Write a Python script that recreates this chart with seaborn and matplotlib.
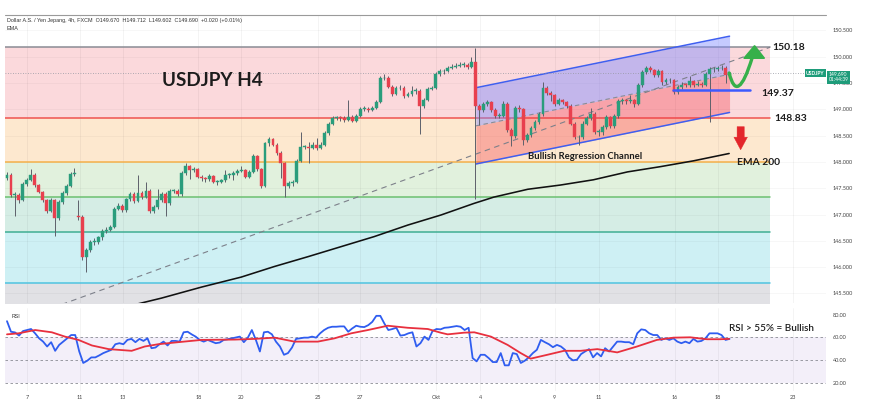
import numpy as np
import pandas as pd
import matplotlib
matplotlib.use("Agg")
import matplotlib.pyplot as plt
import matplotlib.transforms as mtransforms
from matplotlib.path import Path
from matplotlib.patches import PathPatch, Polygon
import seaborn as sns

# 4h candles, USDJPY
closes = [147.75, 147.37, 147.38, 147.27, 147.58, 147.66, 147.75, 147.56, 147.43, 147.28,
          147.07, 147.28, 146.93, 147.24, 147.41, 147.55, 147.77, 147.78, 146.96, 146.20,
          146.33, 146.48, 146.48, 146.57, 146.68, 146.71, 146.77, 147.11, 147.17, 147.08,
          147.29, 147.39, 147.26, 147.41, 147.34, 147.45, 147.07, 147.14, 147.27, 147.39,
          147.22, 147.45, 147.45, 147.39, 147.78, 147.93, 147.85, 147.86, 147.72, 147.69,
          147.67, 147.74, 147.62, 147.62, 147.65, 147.75, 147.75, 147.79, 147.83, 147.84,
          147.72, 147.81, 148.11, 147.86, 147.54, 148.35, 148.43, 148.33, 148.17, 147.97,
          147.54, 147.59, 147.62, 148.02, 148.29, 148.29, 148.27, 148.33, 148.27, 148.33,
          148.55, 148.72, 148.83, 148.85, 148.84, 148.80, 148.86, 148.78, 148.87, 149.01,
          149.01, 148.99, 149.03, 149.14, 149.59, 149.60, 149.43, 149.30, 149.40, 149.41,
          149.26, 149.29, 149.35, 149.35, 149.07, 149.18, 149.39, 149.41, 149.67, 149.72,
          149.72, 149.78, 149.81, 149.83, 149.85, 149.85, 149.81, 149.90, 149.07, 148.99,
          149.10, 149.13, 148.99, 148.88, 148.88, 149.11, 148.61, 148.49, 149.02, 149.00,
          148.42, 148.51, 148.64, 148.76, 148.91, 149.40, 149.31, 149.28, 149.11, 149.17,
          149.13, 149.07, 148.73, 148.47, 148.48, 148.73, 148.84, 148.91, 148.57, 148.57,
          148.67, 148.86, 148.68, 148.88, 149.15, 149.17, 149.15, 149.17, 149.11, 149.46,
          149.71, 149.79, 149.75, 149.65, 149.72, 149.51, 149.55, 149.55, 149.33, 149.42,
          149.47, 149.46, 149.53, 149.46, 149.49, 149.46, 149.67, 149.76, 149.76, 149.78,
          149.79, 149.66, 149.69]
highs = [147.80, 147.79, 147.42, 147.40, 147.62, 147.70, 147.86, 147.78, 147.58, 147.45,
         147.30, 147.31, 147.30, 147.27, 147.44, 147.58, 147.80, 147.88, 147.28, 147.00,
         146.36, 146.52, 146.55, 146.60, 146.72, 146.76, 146.80, 147.15, 147.22, 147.20,
         147.32, 147.43, 147.42, 147.75, 147.45, 147.62, 147.48, 147.18, 147.48, 147.42,
         147.43, 147.49, 147.49, 147.48, 147.82, 147.97, 147.95, 147.90, 147.88, 147.75,
         147.72, 147.77, 147.76, 147.66, 147.68, 147.84, 147.79, 147.82, 147.87, 147.92,
         147.86, 147.85, 148.15, 148.14, 147.89, 148.38, 148.48, 148.46, 148.36, 148.20,
         148.00, 147.63, 147.66, 148.06, 148.56, 148.33, 148.38, 148.38, 148.45, 148.37,
         148.59, 148.76, 148.87, 148.88, 148.88, 148.88, 149.18, 148.90, 148.91, 149.05,
         149.06, 149.04, 149.07, 149.18, 149.64, 149.67, 149.63, 149.46, 149.44, 149.46,
         149.44, 149.33, 149.45, 149.40, 149.38, 149.22, 149.43, 149.45, 149.71, 149.76,
         149.77, 149.82, 149.86, 149.88, 149.89, 149.90, 149.88, 150.00, 150.16, 149.10,
         149.14, 149.18, 149.16, 149.02, 148.93, 149.15, 149.14, 148.65, 149.06, 149.08,
         149.03, 148.55, 148.68, 148.80, 148.95, 149.52, 149.44, 149.35, 149.30, 149.22,
         149.20, 149.15, 149.10, 148.76, 148.52, 148.77, 148.88, 149.02, 148.94, 148.62,
         148.71, 148.90, 148.88, 148.92, 149.19, 149.22, 149.20, 149.28, 149.20, 149.50,
         149.75, 149.83, 149.82, 149.77, 149.76, 149.74, 149.59, 149.60, 149.57, 149.46,
         149.51, 149.50, 149.64, 149.56, 149.53, 149.52, 149.71, 149.80, 149.81, 149.83,
         149.84, 149.82, 149.71]
lows = [147.66, 147.33, 146.98, 147.22, 147.25, 147.55, 147.63, 147.52, 147.40, 147.24,
        147.03, 147.04, 146.59, 146.90, 147.20, 147.38, 147.52, 147.74, 146.90, 146.14,
        145.91, 146.28, 146.42, 146.43, 146.52, 146.64, 146.68, 146.74, 147.08, 147.04,
        147.05, 147.26, 147.22, 147.23, 147.30, 147.31, 147.03, 147.03, 147.11, 147.24,
        146.98, 147.19, 147.41, 147.35, 147.36, 147.75, 147.68, 147.80, 147.69, 147.64,
        147.62, 147.64, 147.59, 147.57, 147.59, 147.62, 147.70, 147.66, 147.76, 147.80,
        147.69, 147.70, 147.78, 147.82, 147.50, 147.52, 148.30, 148.30, 148.13, 147.69,
        147.34, 147.50, 147.55, 147.60, 148.00, 148.25, 147.97, 148.24, 148.23, 148.24,
        148.30, 148.52, 148.70, 148.80, 148.78, 148.76, 148.77, 148.75, 148.75, 148.85,
        148.97, 148.95, 148.96, 149.00, 149.12, 149.55, 149.40, 149.26, 149.27, 149.36,
        149.22, 149.23, 149.26, 149.30, 148.54, 149.02, 149.15, 149.36, 149.38, 149.63,
        149.68, 149.70, 149.76, 149.79, 149.80, 149.81, 149.77, 149.78, 147.30, 148.70,
        148.95, 149.06, 148.95, 148.84, 148.83, 148.85, 148.57, 148.30, 148.45, 148.95,
        148.32, 148.38, 148.47, 148.60, 148.72, 148.88, 149.27, 149.15, 149.07, 149.08,
        149.10, 149.03, 148.70, 148.43, 148.32, 148.44, 148.70, 148.80, 148.53, 148.50,
        148.52, 148.63, 148.64, 148.65, 148.84, 149.10, 149.11, 149.12, 149.05, 149.08,
        149.43, 149.68, 149.71, 149.61, 149.62, 149.47, 149.48, 149.50, 149.29, 149.30,
        149.38, 149.42, 149.43, 149.42, 149.44, 149.42, 149.44, 148.76, 149.71, 149.73,
        149.74, 149.50, 149.60]
first_open = 147.70
gap_opens = {18: 146.98}   # weekend gap

# RSI(14) and its moving average
rsi = [74.2, 64.9, 64.3, 61.5, 65.5, 66.4, 67.3, 63.5, 59.1, 56.2,
       51.9, 55.7, 48.1, 53.3, 56.2, 59.1, 62.0, 62.0, 47.5, 37.4,
       39.4, 42.3, 42.3, 44.1, 46.1, 47.5, 49.0, 53.9, 54.8, 53.9,
       57.7, 58.6, 55.7, 58.6, 56.8, 59.1, 50.4, 51.0, 53.9, 56.2,
       52.8, 56.8, 56.8, 56.2, 64.4, 64.9, 62.6, 60.6, 57.7, 56.2,
       57.7, 56.2, 54.8, 55.4, 57.7, 58.3, 59.1, 60.0, 60.6, 55.7,
       59.7, 66.4, 57.7, 47.5, 64.4, 64.9, 62.6, 56.2, 51.9, 44.6,
       46.1, 51.0, 58.6, 59.1, 59.7, 59.7, 60.6, 59.7, 63.5, 66.4,
       68.4, 69.3, 69.3, 69.6, 69.6, 64.9, 67.8, 70.2, 69.3, 69.0,
       70.7, 73.6, 78.9, 78.9, 72.2, 66.4, 67.3, 68.4, 61.5, 62.0,
       63.5, 64.4, 51.9, 54.8, 60.6, 57.7, 65.5, 67.3,
       67.0, 68.4, 68.7, 69.3, 69.9, 69.3, 66.4, 68.4, 41.7, 38.8,
       44.6, 44.6, 41.7, 38.2, 38.2, 46.1, 35.3, 35.3, 46.1, 45.2,
       37.4, 39.4, 42.3, 46.1, 49.0, 57.7, 55.7, 53.9, 51.3, 53.3,
       51.9, 49.0, 42.3, 39.7, 40.3, 45.2, 47.5, 49.6, 42.3, 46.1,
       43.2, 50.4, 47.5, 51.9, 56.2, 56.2, 55.7, 55.7, 53.9, 63.5,
       67.0, 66.4, 63.5, 62.0, 62.0, 57.7, 59.1, 57.7, 59.1, 56.2,
       54.8, 56.2, 54.8, 58.6, 56.2, 56.8, 59.1, 63.5, 63.5, 63.5,
       62.0, 57.7, 58.6]
rsi_ma_bar = [0, 2.9, 7.1, 11.3, 14.6, 18.0, 21.4, 25.6, 31.4, 34.7, 38.1, 43.1, 49.0,
              57.4, 62.4, 67.4, 72.4, 78.3, 82.5, 86.7, 90.9, 95.9, 100.9, 106.0, 109.3,
              111.0, 115.2, 117.7, 121.9, 126.1, 129.4, 131.9, 136.1, 140.3, 144.5,
              148.7, 153.7, 158.7, 163.7, 167.9, 172.1, 176.3, 179.6, 181.9]
rsi_ma = [62.6, 63.5, 66.4, 64.4, 60.6, 57.7, 52.8, 49.6, 48.1, 51.9, 53.9, 55.7, 57.7,
          58.0, 58.6, 59.7, 56.2, 56.2, 59.1, 63.5, 66.4, 70.2, 68.4, 67.3, 64.0,
          62.6, 64.1, 64.4, 60.6, 53.3, 46.1, 41.2, 44.6, 48.1, 48.1,
          49.6, 46.7, 51.9, 57.7, 59.7, 60.0, 58.3, 58.3, 58.6]

# EMA 200
ema_bar = [30.2, 38.9, 49.0, 59.0, 67.3, 75.9, 84.2, 92.5, 101.0, 109.3, 117.6, 122.6,
           131.2, 139.4, 147.7, 156.3, 164.6, 172.9, 181.9]
ema200 = [145.25, 145.41, 145.62, 145.81, 146.01, 146.20, 146.39, 146.58, 146.80, 146.99,
          147.21, 147.33, 147.48, 147.56, 147.66, 147.81, 147.91, 148.02, 148.16]

fib_levels = [150.18, 148.83, 147.99, 147.33, 146.66, 145.70]
fib_end = 192.2
chan_bars = [118.1, 182.0]
chan_upper = [149.41, 150.39]
chan_lower = [147.96, 148.94]
trend_bars = [13.8, 192.2]
trend_prices = [145.29, 150.18]
support = 149.37
support_bars = [167.8, 187.2]
last_price = 149.69

date_labels = ["7", "11", "13", "18", "20", "25", "27", "Okt", "4", "9", "11", "16", "18", "23"]
date_bars = [5.0, 18.3, 29.1, 48.2, 59.0, 78.3, 89.0, 108.0, 119.2, 138.0, 149.1, 168.2, 179.0, 198.1]

sns.set_theme(style="white")
plt.rcParams["font.family"] = ["Lato", "DejaVu Sans"]

up_col, dn_col, wick_col = "#2a9d7c", "#e8404e", "#5d606b"
zone_cols = ["#fbd9dc", "#fde8cf", "#e1f1dd", "#d5ede5", "#cef0f4", "#e1e1e5"]
line_cols = ["#8a8c94", "#ef5350", "#f5b04a", "#6cc070", "#3fae93", "#4fc3e0"]

n = len(closes)
opens = [first_open] + closes[:-1]
for k, v in gap_opens.items():
    opens[k] = v
candles = pd.DataFrame({"bar": np.arange(n), "open": opens, "high": highs,
                        "low": lows, "close": closes})

fig = plt.figure(figsize=(8.7, 4.19), dpi=100)
ax1 = fig.add_axes([0.00575, 0.2768, 0.9437, 0.6874])
ax2 = fig.add_axes([0.00575, 0.0668, 0.9437, 0.1981])
xlim = (-0.5, 206.3)

# ---- price pane ----
ax1.set_xlim(*xlim)
ax1.set_ylim(145.317, 150.793)
bounds = fib_levels + [145.0]
for i in range(len(fib_levels)):
    ax1.fill_between([xlim[0], fib_end], bounds[i + 1], bounds[i],
                     color=zone_cols[i], lw=0, zorder=0)
    ax1.plot([xlim[0], fib_end], [fib_levels[i]] * 2, color=line_cols[i], lw=1.1, zorder=1)

# regression channel
mid = [(u + l) / 2 for u, l in zip(chan_upper, chan_lower)]
ax1.fill_between(chan_bars, mid, chan_upper, color="#7f8cff", alpha=0.45, lw=0, zorder=1.5)
ax1.fill_between(chan_bars, chan_lower, mid, color="#f23645", alpha=0.33, lw=0, zorder=1.5)
ax1.plot(chan_bars, chan_upper, color="#3f5ff0", lw=1.1, zorder=2)
ax1.plot(chan_bars, chan_lower, color="#3f5ff0", lw=1.1, zorder=2)
ax1.plot(chan_bars, mid, color="#8a8c94", lw=0.8, ls=(0, (4, 3)), zorder=2)
ax1.plot(trend_bars, trend_prices, color="#7d808a", lw=0.8, ls=(0, (5, 4)), zorder=2)

# EMA 200
sns.lineplot(x=ema_bar, y=ema200, ax=ax1, color="#111111", lw=1.15, zorder=3)

# grid
for b in date_bars:
    ax1.axvline(b, color="#000000", alpha=0.05, lw=0.6, zorder=0.5)
for p in np.arange(145.5, 150.6, 0.5):
    ax1.axhline(p, color="#000000", alpha=0.04, lw=0.6, zorder=0.5)

# candles
for r in candles.itertuples():
    c = up_col if r.close >= r.open else dn_col
    ax1.vlines(r.bar, r.low, r.high, color=wick_col, lw=0.7, zorder=4)
    h = max(abs(r.close - r.open), 0.012)
    ax1.bar(r.bar, h, bottom=min(r.open, r.close), width=0.72, color=c,
            edgecolor=c, lw=0.3, zorder=5)

ax1.axhline(last_price, color="#9598a1", lw=0.6, ls=(0, (1, 2)), zorder=2.5)
ax1.plot(support_bars, [support] * 2, color="#3d5afe", lw=1.8, zorder=6)

# green projection arrow
g = "#36b04a"
path = Path([(181.9, last_price), (183.96, 149.06), (187.7, 149.98)],
            [Path.MOVETO, Path.CURVE3, Path.CURVE3])
ax1.add_patch(PathPatch(path, fc="none", ec=g, lw=2.4, zorder=7, capstyle="round"))
ax1.add_patch(Polygon([(188.3, 150.21), (185.6, 149.97), (190.8, 149.97)],
                      closed=True, fc=g, ec=g, zorder=7))
# red down arrow
rd = "#e3262b"
ax1.add_patch(Polygon([(183.9, 148.67), (185.7, 148.67), (185.7, 148.47), (186.5, 148.47),
                       (184.8, 148.23), (183.1, 148.47), (183.9, 148.47)],
                      closed=True, fc=rd, ec=rd, lw=0.3, zorder=7))

# annotations
txt = dict(fontweight="bold", color="#1c1c1c", zorder=8)
ax1.text(39.0, 149.55, "USDJPY H4", fontsize=13.6, va="center", **txt)
ax1.text(192.8, 150.18, "150.18", fontsize=7.5, va="center", **txt)
ax1.text(190.0, 149.38, "149.37", fontsize=7.5, va="top", **txt)
ax1.text(193.3, 148.82, "148.83", fontsize=7.5, va="center", **txt)
ax1.text(183.8, 147.99, "EMA 200", fontsize=7.4, va="center", **txt)
ax1.text(131.2, 148.10, "Bullish Regression Channel", fontsize=6.8, va="center", **txt)

# price tags
blend = mtransforms.blended_transform_factory(ax1.transAxes, ax1.transData)
ax1.text(0.998, last_price, "USDJPY", transform=blend, ha="right", va="center", fontsize=3.6,
         color="white", fontweight="bold", zorder=9,
         bbox=dict(boxstyle="square,pad=0.25", fc="#1e9c7a", ec="none"))
ax1.text(1.003, last_price - 0.08, "149.690\n01:44:39", transform=blend, ha="left", va="center",
         fontsize=3.6, color="white", linespacing=1.1, clip_on=False, zorder=9,
         bbox=dict(boxstyle="square,pad=0.3", fc="#1e9c7a", ec="none"))

ax1.set_yticks(np.arange(145.5, 150.6, 0.5))
ax1.set_yticklabels([f"{v:.3f}" for v in np.arange(145.5, 150.6, 0.5)])
ax1.yaxis.tick_right()
ax1.set_xticks([])
ax1.tick_params(axis="y", labelsize=4, colors="#444444", length=0, pad=5)
for s in ax1.spines.values():
    s.set_visible(False)
ax1.set_xlabel("")
ax1.set_ylabel("")

fig.text(0.008, 0.952, "Dollar A.S. / Yen Jepang, 4h, FXCM  O149.670  H149.712  L149.602  "
         "C149.690  +0.020 (+0.01%)", fontsize=3.9, color="#333333", va="center",
         family=["Liberation Sans", "DejaVu Sans"])
fig.text(0.008, 0.933, "EMA", fontsize=3.9, color="#333333", va="center",
         family=["Liberation Sans", "DejaVu Sans"])
fig.add_artist(plt.Line2D([0.00575, 0.9494], [0.9642, 0.9642], color="#9a9a9a", lw=0.8))

# ---- RSI pane ----
ax2.set_xlim(*xlim)
ax2.set_ylim(12.7, 85.8)
ax2.fill_between(xlim, 20, 60, color="#7e57c2", alpha=0.09, lw=0, zorder=0)
for lv in (60, 40, 20):
    ax2.axhline(lv, color="#8a8c94", lw=0.6, ls=(0, (3, 3)), zorder=1)
for b in date_bars:
    ax2.axvline(b, color="#000000", alpha=0.05, lw=0.6, zorder=0.5)
rsi_x = np.linspace(0, n - 1, len(rsi))
sns.lineplot(x=rsi_x, y=rsi, ax=ax2, color="#2f5df0", lw=1.3, zorder=3)
sns.lineplot(x=rsi_ma_bar, y=rsi_ma, ax=ax2, color="#e8303e", lw=1.3, zorder=4)
ax2.text(181.9, 67.6, "RSI > 55% = Bullish", fontsize=7.1, color="#1c1c1c", va="center",
         fontweight="semibold", zorder=8)
ax2.text(0.008, 0.93, "RSI", transform=ax2.transAxes, fontsize=3.8, color="#333333",
         va="top", family=["Liberation Sans", "DejaVu Sans"])

ax2.set_yticks([20, 40, 60, 80])
ax2.set_yticklabels(["20.00", "40.00", "60.00", "80.00"])
ax2.yaxis.tick_right()
ax2.set_xticks(date_bars)
ax2.set_xticklabels(date_labels)
ax2.tick_params(axis="y", labelsize=4, colors="#444444", length=0, pad=5)
ax2.tick_params(axis="x", labelsize=4, colors="#444444", length=0, pad=3)
for s in ax2.spines.values():
    s.set_visible(False)
ax2.set_xlabel("")
ax2.set_ylabel("")

fig.savefig("out.png", dpi=100)
